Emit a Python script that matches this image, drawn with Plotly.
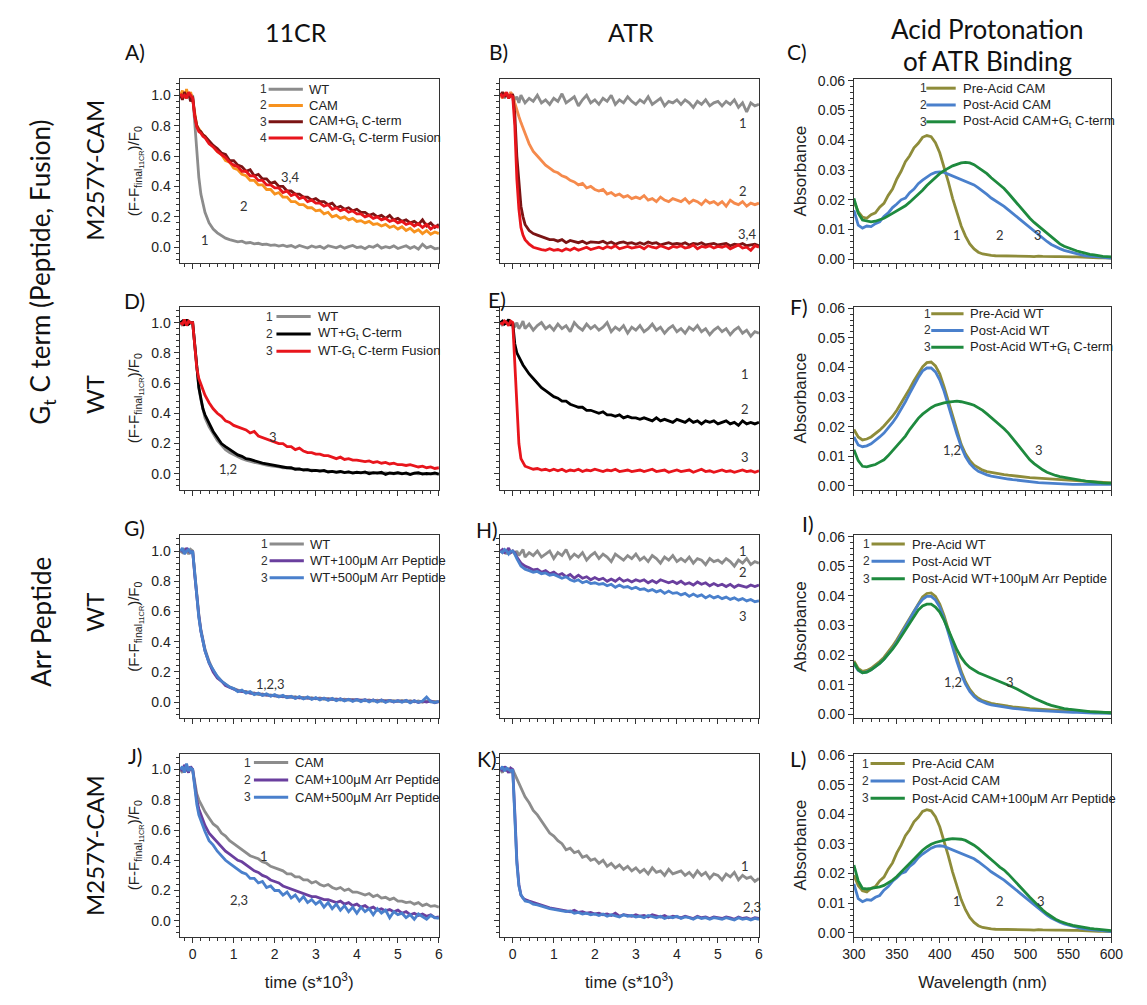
import plotly.graph_objects as go

# ---------------- data ----------------
t = [-0.3, -0.25, -0.2, -0.15, -0.1, -0.05, 0.0, 0.05, 0.1, 0.15, 0.2, 0.25, 0.3, 0.4, 0.5, 0.6, 0.7, 0.8, 0.9, 1.0,
     1.1, 1.2, 1.3, 1.4, 1.5, 1.6, 1.7, 1.8, 1.9, 2.0,
     2.1, 2.2, 2.3, 2.4, 2.5, 2.6, 2.7, 2.8, 2.9, 3.0,
     3.1, 3.2, 3.3, 3.4, 3.5, 3.6, 3.7, 3.8, 3.9, 4.0,
     4.1, 4.2, 4.3, 4.4, 4.5, 4.6, 4.7, 4.8, 4.9, 5.0,
     5.1, 5.2, 5.3, 5.4, 5.5, 5.6, 5.7, 5.8, 5.9, 6.0]

wl = [300, 305, 310, 315, 320, 325, 330, 335, 340, 345, 350, 355, 360, 365, 370, 375, 380, 385, 390, 395,
      400, 405, 410, 415, 420, 425, 430, 435, 440, 445, 450, 455, 460, 465, 470, 475, 480, 485, 490, 495,
      500, 505, 510, 515, 520, 525, 530, 535, 540, 545, 550, 555, 560, 565, 570, 575, 580, 585, 590, 595, 600]

# Panel A (11CR, M257Y-CAM, Gt)
A_wt = [1.00, 0.99, 1.02, 0.98, 1.01, 0.99, 1.00, 0.82, 0.62, 0.46, 0.35, 0.28, 0.23, 0.16, 0.12, 0.095, 0.075, 0.06, 0.05, 0.045,
        0.035, 0.04, 0.028, 0.031, 0.022, 0.026, 0.018, 0.021, 0.012, 0.016,
        0.008, 0.014, 0.005, 0.011, -0.002, 0.012, 0.004, -0.005, 0.008, 0.000,
        0.006, -0.008, 0.010, 0.002, -0.004, 0.008, -0.006, 0.004, 0.012, -0.002,
        0.003, -0.010, 0.007, 0.000, 0.015, -0.006, 0.004, -0.003, 0.009, -0.008,
        0.002, 0.010, -0.007, 0.005, -0.012, 0.020, -0.004, 0.006, -0.010, -0.005]
A_cam = [1.00, 1.03, 0.98, 1.04, 0.99, 1.02, 0.97, 0.88, 0.80, 0.78, 0.76, 0.74, 0.73, 0.69, 0.66, 0.63, 0.61, 0.57, 0.56, 0.52,
         0.51, 0.48, 0.47, 0.44, 0.44, 0.41, 0.41, 0.38, 0.38, 0.35,
         0.36, 0.33, 0.33, 0.30, 0.30, 0.28, 0.28, 0.26, 0.26, 0.24,
         0.245, 0.22, 0.23, 0.20, 0.21, 0.19, 0.20, 0.18, 0.19, 0.17,
         0.175, 0.16, 0.17, 0.15, 0.155, 0.14, 0.15, 0.13, 0.14, 0.12,
         0.135, 0.11, 0.125, 0.10, 0.115, 0.09, 0.11, 0.085, 0.10, 0.09]
A_cpep = [1.00, 0.97, 1.02, 0.99, 1.01, 0.96, 0.99, 0.87, 0.80, 0.77, 0.76, 0.74, 0.73, 0.70, 0.67, 0.65, 0.62, 0.61, 0.57, 0.57,
          0.54, 0.53, 0.50, 0.51, 0.47, 0.48, 0.45, 0.45, 0.42, 0.43,
          0.40, 0.40, 0.37, 0.37, 0.35, 0.35, 0.33, 0.33, 0.31, 0.32,
          0.30, 0.30, 0.28, 0.29, 0.26, 0.27, 0.25, 0.26, 0.24, 0.25,
          0.23, 0.23, 0.21, 0.22, 0.20, 0.21, 0.19, 0.21, 0.18, 0.19,
          0.17, 0.18, 0.16, 0.17, 0.15, 0.18, 0.14, 0.16, 0.13, 0.15]
A_fus = [1.01, 0.99, 1.00, 0.98, 1.02, 1.00, 0.98, 0.86, 0.79, 0.76, 0.75, 0.73, 0.72, 0.68, 0.66, 0.63, 0.61, 0.59, 0.56, 0.54,
         0.53, 0.50, 0.50, 0.47, 0.47, 0.44, 0.44, 0.41, 0.41, 0.39,
         0.39, 0.36, 0.37, 0.34, 0.35, 0.32, 0.33, 0.30, 0.31, 0.29,
         0.29, 0.27, 0.28, 0.25, 0.26, 0.24, 0.25, 0.23, 0.24, 0.22,
         0.22, 0.20, 0.21, 0.19, 0.20, 0.18, 0.19, 0.17, 0.18, 0.16,
         0.17, 0.15, 0.16, 0.14, 0.155, 0.13, 0.15, 0.12, 0.14, 0.13]

# Panel B (ATR, M257Y-CAM, Gt)
B_wt = [0.99, 1.00, 0.98, 1.01, 0.99, 1.00, 1.00, 0.97, 0.99, 0.95, 1.00, 0.97, 0.95, 0.98, 0.96, 1.00, 0.95, 0.97, 0.94, 0.98,
        0.96, 1.01, 0.95, 0.97, 0.99, 0.93, 0.97, 1.00, 0.95, 0.97,
        0.94, 0.98, 0.96, 1.00, 0.94, 0.97, 0.95, 0.99, 0.96, 0.94,
        0.97, 0.95, 0.99, 0.94, 0.96, 0.98, 0.93, 0.96, 0.95, 0.97,
        0.94, 0.97, 0.95, 0.92, 0.96, 0.94, 0.97, 0.93, 0.95, 0.96,
        0.93, 0.96, 0.94, 0.97, 0.92, 0.95, 0.89, 0.95, 0.93, 0.94]
B_cam = [1.00, 0.98, 1.01, 1.00, 0.99, 1.02, 1.00, 0.95, 0.90, 0.86, 0.82, 0.78, 0.75, 0.68, 0.63, 0.60, 0.57, 0.54, 0.52, 0.50,
         0.49, 0.47, 0.46, 0.44, 0.43, 0.41, 0.42, 0.39, 0.40, 0.38,
         0.37, 0.38, 0.35, 0.36, 0.34, 0.35, 0.33, 0.34, 0.32, 0.33,
         0.32, 0.34, 0.31, 0.32, 0.30, 0.33, 0.31, 0.30, 0.32, 0.31,
         0.30, 0.32, 0.29, 0.31, 0.30, 0.28, 0.31, 0.29, 0.30, 0.28,
         0.30, 0.27, 0.31, 0.29, 0.28, 0.30, 0.27, 0.29, 0.28, 0.29]
B_cpep = [1.00, 1.02, 0.99, 1.01, 0.98, 1.00, 1.00, 0.88, 0.60, 0.40, 0.27, 0.20, 0.15, 0.11, 0.09, 0.08, 0.07, 0.06, 0.05, 0.05,
          0.04, 0.05, 0.03, 0.045, 0.035, 0.03, 0.04, 0.025, 0.035, 0.03,
          0.03, 0.04, 0.025, 0.035, 0.02, 0.03, 0.035, 0.025, 0.03, 0.02,
          0.03, 0.02, 0.035, 0.025, 0.03, 0.015, 0.025, 0.03, 0.02, 0.025,
          0.02, 0.03, 0.015, 0.025, 0.02, 0.03, 0.015, 0.02, 0.025, 0.015,
          0.02, 0.025, 0.01, 0.02, 0.015, 0.025, 0.01, 0.015, 0.02, 0.01]
B_fus = [1.01, 0.99, 1.00, 1.02, 0.98, 1.00, 0.99, 0.80, 0.45, 0.25, 0.13, 0.08, 0.05, 0.02, 0.00, -0.01, -0.015, -0.02, -0.01, -0.02,
         -0.015, -0.025, -0.01, -0.02, -0.005, -0.02, -0.01, 0.00, -0.015, -0.005,
         0.00, -0.01, 0.005, -0.005, 0.01, -0.01, 0.00, 0.005, -0.005, 0.00,
         0.005, -0.01, 0.01, 0.00, -0.005, 0.01, 0.00, -0.01, 0.005, 0.00,
         0.01, -0.005, 0.00, 0.015, -0.01, 0.005, 0.00, 0.01, -0.005, 0.005,
         0.00, 0.01, -0.01, 0.005, 0.015, -0.005, 0.00, -0.02, 0.01, 0.00]

# Panel D (11CR, WT, Gt)
D_wt = [1.00, 0.98, 1.02, 0.99, 1.01, 1.00, 1.00, 0.85, 0.68, 0.57, 0.49, 0.42, 0.37, 0.31, 0.26, 0.22, 0.19, 0.16, 0.14, 0.125,
        0.11, 0.10, 0.09, 0.08, 0.075, 0.07, 0.062, 0.058, 0.052, 0.05,
        0.045, 0.04, 0.04, 0.035, 0.03, 0.03, 0.028, 0.025, 0.022, 0.02,
        0.02, 0.018, 0.015, 0.016, 0.012, 0.014, 0.01, 0.012, 0.008, 0.01,
        0.008, 0.006, 0.01, 0.004, 0.008, 0.002, 0.006, 0.004, 0.00, 0.005,
        0.002, 0.004, -0.002, 0.003, 0.00, 0.002, -0.003, 0.001, 0.00, -0.002]
D_pep = [1.00, 1.01, 0.98, 1.02, 0.99, 1.00, 1.00, 0.85, 0.68, 0.57, 0.50, 0.43, 0.39, 0.33, 0.28, 0.24, 0.20, 0.18, 0.16, 0.14,
         0.125, 0.115, 0.10, 0.095, 0.085, 0.08, 0.07, 0.065, 0.06, 0.055,
         0.05, 0.045, 0.04, 0.04, 0.03, 0.032, 0.025, 0.028, 0.02, 0.022,
         0.018, 0.022, 0.012, 0.016, 0.01, 0.015, 0.008, 0.012, 0.005, 0.01,
         0.006, 0.012, 0.00, 0.008, 0.004, 0.01, -0.004, 0.006, 0.002, 0.008,
         0.00, 0.006, -0.005, 0.004, 0.008, -0.002, 0.003, 0.00, 0.005, -0.003]
D_fus = [1.00, 0.99, 1.02, 0.98, 1.01, 1.00, 1.00, 0.86, 0.70, 0.63, 0.59, 0.55, 0.52, 0.47, 0.43, 0.40, 0.38, 0.35, 0.34, 0.32,
         0.31, 0.30, 0.29, 0.27, 0.28, 0.25, 0.24, 0.23, 0.22, 0.21,
         0.20, 0.20, 0.18, 0.18, 0.16, 0.17, 0.15, 0.14, 0.14, 0.13,
         0.13, 0.12, 0.12, 0.11, 0.10, 0.11, 0.095, 0.10, 0.09, 0.09,
         0.085, 0.08, 0.085, 0.075, 0.08, 0.07, 0.075, 0.065, 0.07, 0.06,
         0.06, 0.055, 0.06, 0.05, 0.045, 0.05, 0.04, 0.045, 0.035, 0.04]

# Panel E (ATR, WT, Gt)
E_wt = [1.00, 0.98, 1.01, 0.99, 1.02, 0.98, 1.00, 0.97, 1.00, 0.96, 0.98, 1.01, 0.96, 0.99, 0.95, 0.98, 1.00, 0.96, 0.98, 0.95,
        0.99, 0.96, 0.98, 0.94, 1.00, 0.97, 0.95, 0.99, 0.96, 0.98,
        0.95, 0.97, 1.00, 0.94, 0.97, 0.95, 0.98, 0.93, 0.97, 0.95,
        0.98, 0.94, 0.96, 0.99, 0.95, 0.97, 0.93, 0.96, 0.98, 0.94,
        0.96, 0.93, 0.97, 0.95, 0.98, 0.94, 0.96, 0.92, 0.95, 0.97,
        0.94, 0.96, 0.92, 0.95, 0.97, 0.93, 0.95, 0.91, 0.94, 0.93]
E_pep = [1.00, 1.01, 0.99, 1.00, 1.02, 0.99, 1.00, 0.86, 0.80, 0.77, 0.74, 0.72, 0.70, 0.66, 0.63, 0.60, 0.57, 0.55, 0.53, 0.51,
         0.50, 0.48, 0.48, 0.46, 0.45, 0.44, 0.44, 0.42, 0.42, 0.41,
         0.40, 0.41, 0.39, 0.39, 0.38, 0.39, 0.37, 0.38, 0.37, 0.37,
         0.36, 0.37, 0.36, 0.35, 0.37, 0.35, 0.36, 0.35, 0.34, 0.36,
         0.35, 0.34, 0.36, 0.34, 0.35, 0.33, 0.35, 0.34, 0.35, 0.33,
         0.34, 0.35, 0.33, 0.34, 0.32, 0.35, 0.33, 0.34, 0.33, 0.34]
E_fus = [1.00, 0.99, 1.01, 1.00, 0.98, 1.01, 1.00, 0.70, 0.40, 0.20, 0.10, 0.07, 0.05, 0.04, 0.03, 0.035, 0.025, 0.03, 0.02, 0.03,
         0.02, 0.03, 0.015, 0.025, 0.02, 0.03, 0.015, 0.025, 0.02, 0.03,
         0.02, 0.015, 0.025, 0.02, 0.03, 0.015, 0.02, 0.025, 0.015, 0.02,
         0.025, 0.015, 0.02, 0.03, 0.015, 0.02, 0.025, 0.01, 0.02, 0.025,
         0.015, 0.02, 0.025, 0.01, 0.02, 0.03, 0.015, 0.02, 0.01, 0.02,
         0.025, 0.015, 0.02, 0.01, 0.02, 0.025, 0.015, 0.02, 0.01, 0.02]

# Panel G (11CR, WT, Arr)
G_wt = [1.00, 0.99, 1.01, 1.00, 0.98, 1.01, 1.00, 0.85, 0.70, 0.58, 0.48, 0.41, 0.35, 0.27, 0.21, 0.17, 0.14, 0.12, 0.10, 0.09,
        0.08, 0.07, 0.072, 0.06, 0.062, 0.05, 0.055, 0.045, 0.048, 0.04,
        0.042, 0.035, 0.038, 0.032, 0.036, 0.028, 0.032, 0.025, 0.03, 0.022,
        0.028, 0.02, 0.025, 0.018, 0.022, 0.015, 0.02, 0.014, 0.018, 0.012,
        0.016, 0.01, 0.015, 0.008, 0.014, 0.006, 0.012, 0.008, 0.01, 0.005,
        0.012, 0.004, 0.01, 0.002, 0.009, 0.00, 0.008, 0.003, 0.006, 0.002]
G_100 = [1.01, 1.00, 0.99, 1.02, 1.00, 0.99, 1.00, 0.84, 0.69, 0.57, 0.47, 0.40, 0.34, 0.26, 0.20, 0.16, 0.14, 0.11, 0.10, 0.085,
         0.075, 0.072, 0.065, 0.063, 0.055, 0.058, 0.048, 0.05, 0.042, 0.045,
         0.038, 0.04, 0.033, 0.036, 0.028, 0.032, 0.025, 0.03, 0.022, 0.027,
         0.02, 0.025, 0.018, 0.022, 0.015, 0.021, 0.013, 0.019, 0.012, 0.018,
         0.01, 0.016, 0.008, 0.015, 0.005, 0.014, 0.004, 0.012, 0.002, 0.01,
         0.003, 0.012, 0.00, 0.009, -0.002, 0.007, 0.001, 0.008, -0.003, 0.004]
G_500 = [1.00, 1.02, 0.98, 1.00, 1.01, 0.99, 1.00, 0.84, 0.68, 0.56, 0.47, 0.40, 0.34, 0.26, 0.21, 0.17, 0.14, 0.12, 0.10, 0.09,
         0.07, 0.08, 0.06, 0.07, 0.05, 0.06, 0.045, 0.055, 0.04, 0.05,
         0.035, 0.045, 0.03, 0.04, 0.025, 0.038, 0.022, 0.035, 0.018, 0.03,
         0.015, 0.028, 0.012, 0.025, 0.01, 0.022, 0.008, 0.02, 0.005, 0.018,
         0.004, 0.016, 0.002, 0.015, 0.00, 0.014, -0.002, 0.012, 0.003, 0.01,
         0.00, 0.012, -0.004, 0.01, 0.00, 0.008, 0.035, 0.004, -0.002, 0.006]

# Panel H (ATR, WT, Arr)
H_wt = [1.00, 0.99, 1.01, 0.98, 1.00, 0.99, 1.00, 0.98, 1.00, 0.97, 0.99, 1.01, 0.96, 0.99, 0.97, 1.00, 0.96, 0.98, 1.00, 0.95,
        0.99, 0.97, 1.01, 0.95, 0.98, 0.96, 0.99, 0.94, 0.97, 0.99,
        0.95, 0.98, 0.96, 0.93, 0.98, 0.96, 0.94, 0.97, 0.95, 0.98,
        0.94, 0.96, 0.93, 0.97, 0.95, 0.92, 0.96, 0.94, 0.97, 0.93,
        0.95, 0.93, 0.96, 0.92, 0.95, 0.94, 0.91, 0.95, 0.93, 0.94,
        0.92, 0.95, 0.93, 0.90, 0.94, 0.92, 0.95, 0.91, 0.93, 0.92]
H_100 = [1.00, 1.01, 0.99, 1.00, 1.02, 0.99, 1.00, 0.99, 0.96, 0.94, 0.92, 0.91, 0.90, 0.89, 0.875, 0.88, 0.86, 0.87, 0.85, 0.86,
         0.84, 0.85, 0.83, 0.845, 0.82, 0.84, 0.82, 0.83, 0.81, 0.825,
         0.81, 0.82, 0.80, 0.815, 0.80, 0.82, 0.80, 0.81, 0.795, 0.81,
         0.80, 0.81, 0.79, 0.805, 0.79, 0.81, 0.80, 0.79, 0.80, 0.785,
         0.80, 0.78, 0.79, 0.775, 0.795, 0.78, 0.79, 0.77, 0.785, 0.77,
         0.78, 0.765, 0.78, 0.76, 0.775, 0.77, 0.76, 0.775, 0.765, 0.775]
H_500 = [1.00, 0.99, 1.01, 1.00, 0.98, 1.00, 1.00, 0.98, 0.95, 0.92, 0.90, 0.89, 0.88, 0.87, 0.86, 0.865, 0.85, 0.855, 0.84, 0.845,
         0.83, 0.82, 0.83, 0.81, 0.80, 0.81, 0.79, 0.80, 0.785, 0.79,
         0.78, 0.785, 0.77, 0.78, 0.76, 0.775, 0.76, 0.765, 0.75, 0.76,
         0.745, 0.75, 0.735, 0.745, 0.73, 0.74, 0.72, 0.735, 0.72, 0.725,
         0.71, 0.72, 0.70, 0.715, 0.70, 0.71, 0.69, 0.705, 0.69, 0.70,
         0.685, 0.695, 0.68, 0.69, 0.675, 0.685, 0.67, 0.68, 0.665, 0.67]

# Panel J (11CR, M257Y-CAM, Arr)
J_cam = [1.00, 0.98, 1.02, 0.99, 1.01, 1.00, 1.00, 0.92, 0.84, 0.80, 0.77, 0.745, 0.72, 0.68, 0.64, 0.62, 0.58, 0.56, 0.53, 0.51,
         0.49, 0.47, 0.45, 0.43, 0.42, 0.41, 0.39, 0.38, 0.36, 0.35,
         0.34, 0.33, 0.31, 0.31, 0.29, 0.29, 0.27, 0.27, 0.25, 0.26,
         0.24, 0.23, 0.24, 0.22, 0.21, 0.22, 0.20, 0.21, 0.19, 0.19,
         0.18, 0.17, 0.18, 0.16, 0.17, 0.15, 0.155, 0.14, 0.15, 0.13,
         0.13, 0.12, 0.125, 0.11, 0.12, 0.10, 0.11, 0.095, 0.10, 0.09]
J_100 = [1.01, 0.99, 1.03, 1.00, 0.98, 1.02, 1.00, 0.90, 0.80, 0.74, 0.70, 0.66, 0.63, 0.58, 0.55, 0.52, 0.49, 0.46, 0.44, 0.42,
         0.40, 0.39, 0.37, 0.35, 0.33, 0.32, 0.30, 0.29, 0.27, 0.26,
         0.25, 0.23, 0.22, 0.21, 0.20, 0.19, 0.18, 0.17, 0.16, 0.16,
         0.15, 0.14, 0.14, 0.13, 0.12, 0.13, 0.11, 0.12, 0.10, 0.11,
         0.09, 0.10, 0.08, 0.09, 0.07, 0.08, 0.065, 0.075, 0.06, 0.07,
         0.05, 0.06, 0.04, 0.05, 0.035, 0.045, 0.03, 0.04, 0.02, 0.025]
J_500 = [1.00, 1.02, 0.98, 1.04, 0.99, 1.01, 1.00, 0.88, 0.77, 0.70, 0.66, 0.62, 0.59, 0.53, 0.50, 0.46, 0.43, 0.40, 0.38, 0.36,
         0.34, 0.32, 0.31, 0.28, 0.28, 0.25, 0.26, 0.22, 0.23, 0.20,
         0.20, 0.17, 0.19, 0.15, 0.17, 0.13, 0.16, 0.12, 0.14, 0.11,
         0.13, 0.09, 0.12, 0.08, 0.11, 0.07, 0.10, 0.06, 0.09, 0.05,
         0.09, 0.06, 0.08, 0.04, 0.08, 0.05, 0.07, 0.02, 0.06, 0.04,
         0.05, 0.02, 0.04, 0.01, 0.045, 0.03, 0.01, 0.035, 0.02, 0.015]

# Panel K (ATR, M257Y-CAM, Arr)
K_cam = [1.00, 0.98, 1.02, 0.99, 1.01, 0.98, 1.00, 0.97, 0.93, 0.90, 0.87, 0.85, 0.82, 0.78, 0.73, 0.70, 0.66, 0.62, 0.58, 0.56,
         0.53, 0.51, 0.47, 0.48, 0.45, 0.46, 0.42, 0.43, 0.40, 0.41,
         0.38, 0.40, 0.36, 0.38, 0.35, 0.37, 0.34, 0.36, 0.33, 0.35,
         0.32, 0.34, 0.31, 0.35, 0.32, 0.33, 0.30, 0.34, 0.31, 0.32,
         0.33, 0.30, 0.32, 0.29, 0.33, 0.30, 0.32, 0.28, 0.31, 0.30,
         0.27, 0.31, 0.29, 0.32, 0.27, 0.30, 0.28, 0.29, 0.26, 0.28]
K_100 = [1.01, 0.99, 1.02, 1.00, 0.98, 1.01, 1.00, 0.72, 0.40, 0.24, 0.17, 0.15, 0.14, 0.13, 0.12, 0.11, 0.10, 0.09, 0.085, 0.08,
         0.075, 0.07, 0.065, 0.06, 0.07, 0.055, 0.06, 0.05, 0.055, 0.045,
         0.05, 0.04, 0.045, 0.035, 0.05, 0.03, 0.04, 0.035, 0.03, 0.04,
         0.03, 0.035, 0.025, 0.04, 0.03, 0.025, 0.035, 0.02, 0.03, 0.025,
         0.02, 0.03, 0.025, 0.015, 0.03, 0.02, 0.025, 0.015, 0.025, 0.02,
         0.015, 0.025, 0.02, 0.01, 0.025, 0.015, 0.02, 0.01, 0.02, 0.015]
K_500 = [1.00, 1.02, 0.99, 1.01, 1.00, 0.99, 1.00, 0.70, 0.38, 0.23, 0.17, 0.15, 0.13, 0.125, 0.11, 0.105, 0.095, 0.085, 0.08, 0.075,
         0.07, 0.065, 0.06, 0.065, 0.05, 0.055, 0.045, 0.05, 0.04, 0.045,
         0.035, 0.045, 0.03, 0.04, 0.035, 0.025, 0.04, 0.03, 0.035, 0.025,
         0.03, 0.02, 0.035, 0.025, 0.02, 0.03, 0.015, 0.025, 0.02, 0.03,
         0.015, 0.025, 0.02, 0.01, 0.025, 0.015, 0.02, 0.01, 0.02, 0.015,
         0.01, 0.02, 0.015, 0.005, 0.02, 0.01, 0.015, 0.005, 0.015, 0.01]

# Spectra: M257Y-CAM (panels C and L)
CAM_pre = [0.0195, 0.0160, 0.0142, 0.0138, 0.0150, 0.0156, 0.0175, 0.0188, 0.0215, 0.0236, 0.0270, 0.0296, 0.0328, 0.0348, 0.0375, 0.0390, 0.0410, 0.0416, 0.0412, 0.0392,
           0.0358, 0.0310, 0.0260, 0.0205, 0.0155, 0.0112, 0.0078, 0.0052, 0.0035, 0.0024, 0.0018, 0.0015, 0.0013, 0.0012, 0.0012, 0.0011, 0.0012, 0.0010, 0.0011, 0.0010,
           0.0011, 0.0010, 0.0009, 0.0011, 0.0010, 0.0009, 0.0010, 0.0009, 0.0009, 0.0008, 0.0009, 0.0008, 0.0008, 0.0007, 0.0007, 0.0006, 0.0006, 0.0005, 0.0005, 0.0004, 0.0004]
CAM_post = [0.0165, 0.0115, 0.0105, 0.0112, 0.0110, 0.0120, 0.0126, 0.0144, 0.0156, 0.0174, 0.0186, 0.0200, 0.0206, 0.0224, 0.0236, 0.0254, 0.0266, 0.0276, 0.0286, 0.0292,
            0.0294, 0.0292, 0.0286, 0.0280, 0.0276, 0.0270, 0.0264, 0.0258, 0.0250, 0.0240, 0.0230, 0.0218, 0.0206, 0.0197, 0.0188, 0.0178, 0.0166, 0.0154, 0.0142, 0.0130,
            0.0118, 0.0106, 0.0095, 0.0085, 0.0072, 0.0060, 0.0050, 0.0042, 0.0036, 0.0030, 0.0026, 0.0021, 0.0018, 0.0015, 0.0012, 0.0010, 0.0009, 0.0008, 0.0007, 0.0005, 0.0004]
CAM_gt = [0.0205, 0.0155, 0.0132, 0.0128, 0.0126, 0.0128, 0.0133, 0.0138, 0.0146, 0.0155, 0.0163, 0.0172, 0.0180, 0.0192, 0.0205, 0.0218, 0.0232, 0.0248, 0.0262, 0.0276,
          0.0288, 0.0298, 0.0306, 0.0314, 0.0319, 0.0324, 0.0326, 0.0324, 0.0318, 0.0308, 0.0298, 0.0288, 0.0274, 0.0262, 0.0250, 0.0238, 0.0222, 0.0205, 0.0188, 0.0170,
          0.0154, 0.0138, 0.0124, 0.0112, 0.0098, 0.0085, 0.0073, 0.0062, 0.0052, 0.0044, 0.0038, 0.0032, 0.0028, 0.0024, 0.0020, 0.0017, 0.0015, 0.0012, 0.0010, 0.0009, 0.0008]
CAM_arr = [0.0229, 0.0175, 0.0150, 0.0148, 0.0150, 0.0152, 0.0155, 0.0160, 0.0168, 0.0178, 0.0190, 0.0205, 0.0220, 0.0236, 0.0252, 0.0266, 0.0279, 0.0290, 0.0299, 0.0305,
           0.0309, 0.0313, 0.0316, 0.0318, 0.0318, 0.0316, 0.0312, 0.0305, 0.0296, 0.0285, 0.0273, 0.0262, 0.0248, 0.0235, 0.0222, 0.0212, 0.0198, 0.0182, 0.0166, 0.0152,
           0.0136, 0.0120, 0.0106, 0.0090, 0.0077, 0.0065, 0.0055, 0.0046, 0.0039, 0.0033, 0.0029, 0.0025, 0.0022, 0.0019, 0.0017, 0.0015, 0.0013, 0.0011, 0.0010, 0.0008, 0.0007]

# Spectra: WT (panel F)
WTF_pre = [0.0190, 0.0165, 0.0155, 0.0158, 0.0165, 0.0175, 0.0188, 0.0202, 0.0218, 0.0235, 0.0255, 0.0278, 0.0302, 0.0328, 0.0355, 0.0380, 0.0402, 0.0416, 0.0418, 0.0405,
           0.0378, 0.0335, 0.0285, 0.0232, 0.0182, 0.0140, 0.0108, 0.0086, 0.0070, 0.0060, 0.0053, 0.0048, 0.0045, 0.0042, 0.0040, 0.0038, 0.0036, 0.0034, 0.0032, 0.0031,
           0.0029, 0.0028, 0.0027, 0.0026, 0.0025, 0.0024, 0.0023, 0.0022, 0.0020, 0.0019, 0.0018, 0.0017, 0.0016, 0.0015, 0.0014, 0.0013, 0.0012, 0.0012, 0.0011, 0.0010, 0.0010]
WTF_post = [0.0165, 0.0138, 0.0132, 0.0135, 0.0142, 0.0152, 0.0165, 0.0178, 0.0195, 0.0213, 0.0234, 0.0258, 0.0284, 0.0312, 0.0340, 0.0366, 0.0388, 0.0398, 0.0398, 0.0385,
            0.0358, 0.0320, 0.0272, 0.0222, 0.0175, 0.0133, 0.0099, 0.0076, 0.0060, 0.0049, 0.0042, 0.0037, 0.0033, 0.0030, 0.0027, 0.0025, 0.0023, 0.0021, 0.0019, 0.0017,
            0.0015, 0.0014, 0.0012, 0.0011, 0.0010, 0.0009, 0.0008, 0.0007, 0.0007, 0.0006, 0.0006, 0.0005, 0.0005, 0.0005, 0.0005, 0.0005, 0.0005, 0.0005, 0.0005, 0.0005, 0.0005]
WTF_gt = [0.0122, 0.0085, 0.0066, 0.0064, 0.0068, 0.0072, 0.0080, 0.0088, 0.0102, 0.0118, 0.0135, 0.0152, 0.0168, 0.0190, 0.0210, 0.0228, 0.0242, 0.0254, 0.0264, 0.0272,
          0.0277, 0.0280, 0.0283, 0.0285, 0.0286, 0.0284, 0.0281, 0.0277, 0.0272, 0.0264, 0.0255, 0.0243, 0.0231, 0.0218, 0.0205, 0.0193, 0.0178, 0.0160, 0.0142, 0.0122,
          0.0104, 0.0088, 0.0075, 0.0063, 0.0054, 0.0046, 0.0040, 0.0035, 0.0031, 0.0028, 0.0025, 0.0022, 0.0020, 0.0018, 0.0016, 0.0014, 0.0012, 0.0011, 0.0010, 0.0009, 0.0009]

# Spectra: WT (panel I)
WTI_pre = [0.0180, 0.0155, 0.0145, 0.0148, 0.0155, 0.0165, 0.0178, 0.0192, 0.0210, 0.0230, 0.0252, 0.0276, 0.0300, 0.0326, 0.0352, 0.0376, 0.0396, 0.0408, 0.0410, 0.0398,
           0.0372, 0.0334, 0.0286, 0.0236, 0.0188, 0.0145, 0.0110, 0.0084, 0.0066, 0.0054, 0.0046, 0.0041, 0.0037, 0.0034, 0.0031, 0.0029, 0.0027, 0.0025, 0.0023, 0.0022,
           0.0020, 0.0019, 0.0018, 0.0017, 0.0016, 0.0015, 0.0014, 0.0013, 0.0012, 0.0011, 0.0010, 0.0010, 0.0009, 0.0009, 0.0008, 0.0008, 0.0007, 0.0007, 0.0006, 0.0006, 0.0005]
WTI_post = [0.0170, 0.0148, 0.0140, 0.0143, 0.0150, 0.0160, 0.0172, 0.0186, 0.0203, 0.0222, 0.0244, 0.0268, 0.0294, 0.0320, 0.0346, 0.0370, 0.0388, 0.0398, 0.0398, 0.0386,
            0.0362, 0.0324, 0.0276, 0.0226, 0.0178, 0.0136, 0.0102, 0.0077, 0.0060, 0.0048, 0.0041, 0.0036, 0.0032, 0.0029, 0.0026, 0.0024, 0.0022, 0.0020, 0.0018, 0.0016,
            0.0015, 0.0014, 0.0013, 0.0012, 0.0011, 0.0010, 0.0009, 0.0008, 0.0008, 0.0007, 0.0007, 0.0006, 0.0006, 0.0005, 0.0005, 0.0005, 0.0004, 0.0004, 0.0004, 0.0003, 0.0003]
WTI_arr = [0.0175, 0.0150, 0.0140, 0.0142, 0.0150, 0.0160, 0.0172, 0.0186, 0.0202, 0.0220, 0.0240, 0.0262, 0.0285, 0.0308, 0.0332, 0.0352, 0.0366, 0.0372, 0.0372, 0.0362,
           0.0345, 0.0318, 0.0285, 0.0250, 0.0218, 0.0192, 0.0172, 0.0158, 0.0148, 0.0140, 0.0134, 0.0128, 0.0123, 0.0118, 0.0112, 0.0106, 0.0099, 0.0092, 0.0085, 0.0078,
           0.0070, 0.0062, 0.0054, 0.0047, 0.0041, 0.0035, 0.0030, 0.0026, 0.0022, 0.0019, 0.0017, 0.0015, 0.0013, 0.0011, 0.0010, 0.0009, 0.0008, 0.0007, 0.0006, 0.0005, 0.0005]

# ---------------- styling ----------------
PAGE_MARGIN = 8            # default body margin of the html page
W, H = 1147 - 2 * PAGE_MARGIN, 1005 - 2 * PAGE_MARGIN
COLS = [(171, 436), (498, 763), (860, 1123)]      # page px
ROWS = [(73, 259), (303, 488), (534, 719), (755, 940)]

GRAY = "#8c8c8c"
ORANGE_A = "#f7921e"
ORANGE_B = "#f58a4c"
DARKRED = "#7b1414"
RED = "#e8151c"
BLACK = "#000000"
PURPLE = "#6a3f9e"
BLUE = "#4a80cc"
OLIVE = "#8e8c3a"
GREEN = "#1e8a3e"

TICKFONT = dict(family="Liberation Sans, Arial, sans-serif", size=14, color="#222")
TXTFONT = "Liberation Sans, Arial, sans-serif"
CALFONT = "Lato, Open Sans, sans-serif"
AX = "#333"


def fx(p):
    return (p - PAGE_MARGIN) / W


def fy(p):
    return 1 - (p - PAGE_MARGIN) / H


# (row, col, xdata, [(ydata, color)], curve labels [(x, y, text)])
panels = [
    (0, 0, t, [(A_wt, GRAY), (A_cam, ORANGE_A), (A_cpep, DARKRED), (A_fus, RED)],
     [(0.3, 0.05, "1"), (1.25, 0.27, "2"), (2.36, 0.46, "3,4")]),
    (0, 1, t, [(B_wt, GRAY), (B_cam, ORANGE_B), (B_cpep, DARKRED), (B_fus, RED)],
     [(5.6, 0.82, "1"), (5.6, 0.37, "2"), (5.7, 0.09, "3,4")]),
    (0, 2, wl, [(CAM_pre, OLIVE), (CAM_post, BLUE), (CAM_gt, GREEN)],
     [(420, 0.0083, "1"), (470, 0.0083, "2"), (515, 0.0083, "3")]),
    (1, 0, t, [(D_wt, GRAY), (D_pep, BLACK), (D_fus, RED)],
     [(0.85, 0.03, "1,2"), (1.96, 0.24, "3")]),
    (1, 1, t, [(E_wt, GRAY), (E_pep, BLACK), (E_fus, RED)],
     [(5.65, 0.66, "1"), (5.65, 0.43, "2"), (5.65, 0.11, "3")]),
    (1, 2, wl, [(WTF_pre, OLIVE), (WTF_post, BLUE), (WTF_gt, GREEN)],
     [(414, 0.0122, "1,2"), (516, 0.0122, "3")]),
    (2, 0, t, [(G_wt, GRAY), (G_100, PURPLE), (G_500, BLUE)],
     [(1.9, 0.12, "1,2,3")]),
    (2, 1, t, [(H_wt, GRAY), (H_100, PURPLE), (H_500, BLUE)],
     [(5.6, 1.0, "1"), (5.6, 0.86, "2"), (5.6, 0.57, "3")]),
    (2, 2, wl, [(WTI_pre, OLIVE), (WTI_post, BLUE), (WTI_arr, GREEN)],
     [(416, 0.011, "1,2"), (482, 0.011, "3")]),
    (3, 0, t, [(J_cam, GRAY), (J_100, PURPLE), (J_500, BLUE)],
     [(1.73, 0.43, "1"), (1.13, 0.14, "2,3")]),
    (3, 1, t, [(K_cam, GRAY), (K_100, PURPLE), (K_500, BLUE)],
     [(5.67, 0.36, "1"), (5.83, 0.09, "2,3")]),
    (3, 2, wl, [(CAM_pre, OLIVE), (CAM_post, BLUE), (CAM_arr, GREEN)],
     [(420, 0.0106, "1"), (470, 0.0106, "2"), (518, 0.0106, "3")]),
]

legends = [
    # (num_x, sample_x0, sample_x1, text_x, first_y, dy, items)  -- page px
    (257, 262, 297, 301, 83, 16.5, [("1", GRAY, "WT"), ("2", ORANGE_A, "CAM"),
                                    ("3", DARKRED, "CAM+G<sub>t</sub> C-term"),
                                    ("4", RED, "CAM-G<sub>t</sub> C-term Fusion")]),
    (931, 934, 964, 969, 82, 17, [("1", OLIVE, "Pre-Acid CAM"), ("2", BLUE, "Post-Acid CAM"),
                                  ("3", GREEN, "Post-Acid CAM+G<sub>t</sub> C-term")]),
    (263, 270, 305, 310, 313, 17.5, [("1", GRAY, "WT"), ("2", BLACK, "WT+G<sub>t</sub> C-term"),
                                     ("3", RED, "WT-G<sub>t</sub> C-term Fusion")]),
    (935, 939, 972, 977, 310, 17, [("1", OLIVE, "Pre-Acid WT"), ("2", BLUE, "Post-Acid WT"),
                                   ("3", GREEN, "Post-Acid WT+G<sub>t</sub> C-term")]),
    (258, 263, 298, 302, 543, 17, [("1", GRAY, "WT"), ("2", PURPLE, "WT+100\u03bcM Arr Peptide"),
                                   ("3", BLUE, "WT+500\u03bcM Arr Peptide")]),
    (873, 878, 912, 917, 543, 17.5, [("1", OLIVE, "Pre-Acid WT"), ("2", BLUE, "Post-Acid WT"),
                                     ("3", GREEN, "Post-Acid WT+100\u03bcM Arr Peptide")]),
    (240, 247, 282, 287, 764, 17.5, [("1", GRAY, "CAM"), ("2", PURPLE, "CAM+100\u03bcM Arr Peptide"),
                                     ("3", BLUE, "CAM+500\u03bcM Arr Peptide")]),
    (872, 877, 912, 917, 765, 17.5, [("1", OLIVE, "Pre-Acid CAM"), ("2", BLUE, "Post-Acid CAM"),
                                     ("3", GREEN, "Post-Acid CAM+100\u03bcM Arr Peptide")]),
]

fig = go.Figure()
layout = dict(width=W, height=H, margin=dict(l=0, r=0, t=0, b=0),
              paper_bgcolor="white", plot_bgcolor="white", showlegend=False)
annotations = []
shapes = []

for k, (r, c, xd, series, clabels) in enumerate(panels, start=1):
    sfx = "" if k == 1 else str(k)
    xid, yid = "x" + sfx, "y" + sfx
    for yd, col in series:
        fig.add_trace(go.Scatter(x=xd, y=yd, mode="lines", line=dict(color=col, width=2.8),
                                 xaxis=xid, yaxis=yid, hoverinfo="skip"))
    spectral = (c == 2)
    xa = dict(domain=[fx(COLS[c][0]), fx(COLS[c][1])], anchor=yid,
              showline=True, linecolor=AX, linewidth=1, mirror=True,
              ticks="outside", ticklen=5, tickwidth=1, tickcolor=AX,
              showgrid=False, zeroline=False, tickfont=TICKFONT,
              showticklabels=(r == 3))
    ya = dict(domain=[fy(ROWS[r][1]), fy(ROWS[r][0])], anchor=xid,
              showline=True, linecolor=AX, linewidth=1, mirror=True,
              ticks="outside", ticklen=5, tickwidth=1, tickcolor=AX,
              showgrid=False, zeroline=False, tickfont=TICKFONT)
    if spectral:
        xa.update(range=[300, 600], tick0=300, dtick=50,
                  minor=dict(ticks="outside", dtick=10, ticklen=3, tickcolor=AX))
        ya.update(range=[-0.0013, 0.0605], tick0=0, dtick=0.01, tickformat=".2f",
                  minor=dict(ticks="outside", dtick=0.002, ticklen=3, tickcolor=AX),
                  title=dict(text="Absorbance", font=dict(family=TXTFONT, size=17, color="#222"), standoff=6))
        if r == 3:
            xa["title"] = dict(text="Wavelength (nm)", font=dict(family=TXTFONT, size=17, color="#222"), standoff=14)
    else:
        xa.update(range=[-0.32, 6.0], tick0=0, dtick=1,
                  minor=dict(ticks="outside", dtick=0.2, ticklen=3, tickcolor=AX))
        ya.update(range=[-0.105, 1.105], tick0=0, dtick=0.2, tickformat=".1f",
                  minor=dict(ticks="outside", dtick=0.04, ticklen=3, tickcolor=AX),
                  showticklabels=(c == 0))
        if c == 0:
            ya["title"] = dict(text="(F-F<sub>final<sub>11CR</sub></sub>)/F<sub>0</sub>",
                               font=dict(family=TXTFONT, size=15, color="#222"), standoff=8)
        if r == 3:
            xa["title"] = dict(text="time (s*10<sup>3</sup>)", font=dict(family=TXTFONT, size=17, color="#222"), standoff=14)
    layout["xaxis" + sfx] = xa
    layout["yaxis" + sfx] = ya
    for lx, ly, txt in clabels:
        annotations.append(dict(x=lx, y=ly, xref=xid, yref=yid, text=txt, showarrow=False,
                                font=dict(family=CALFONT, size=13, color="#333")))

# manual legends
for nx, sx0, sx1, tx, y0, dy, items in legends:
    for i, (num, col, txt) in enumerate(items):
        yy = y0 + i * dy
        shapes.append(dict(type="line", xref="paper", yref="paper", x0=fx(sx0), x1=fx(sx1),
                           y0=fy(yy), y1=fy(yy), line=dict(color=col, width=3)))
        annotations.append(dict(x=fx(nx), y=fy(yy), xref="paper", yref="paper", text=num,
                                showarrow=False, xanchor="center", yanchor="middle",
                                font=dict(family=TXTFONT, size=12, color="#333")))
        annotations.append(dict(x=fx(tx), y=fy(yy), xref="paper", yref="paper", text=txt,
                                showarrow=False, xanchor="left", yanchor="middle",
                                font=dict(family=TXTFONT, size=13, color="#222")))

# panel letters
letters = [("A)", 125, 45), ("B)", 497, 45), ("C)", 802, 45), ("D)", 125, 297), ("E)", 495, 296),
           ("F)", 803, 303), ("G)", 125, 526), ("H)", 485, 528), ("I)", 813, 522),
           ("J)", 125, 757), ("K)", 485, 760), ("L)", 803, 760)]
for txt, x, y in letters:
    annotations.append(dict(x=fx(x), y=fy(y), xref="paper", yref="paper", text=txt, showarrow=False,
                            xanchor="center", yanchor="middle",
                            font=dict(family=CALFONT, size=21, color="#111")))

# column headers
for txt, x, y, s in [("11CR", 290, 25, 25), ("ATR", 632, 25, 25),
                     ("Acid Protonation", 996, 22, 26), ("of ATR Binding", 996, 55, 26)]:
    annotations.append(dict(x=fx(x), y=fy(y), xref="paper", yref="paper", text=txt, showarrow=False,
                            xanchor="center", yanchor="middle",
                            font=dict(family=CALFONT, size=s, color="#111")))

# row labels
for txt, x, y, s in [("G<sub>t</sub> C term (Peptide, Fusion)", 30, 268, 26),
                     ("M257Y-CAM", 84, 165, 24), ("WT", 84, 392, 24),
                     ("Arr Peptide", 30, 622, 26),
                     ("WT", 84, 612, 24), ("M257Y-CAM", 84, 848, 24)]:
    annotations.append(dict(x=fx(x), y=fy(y), xref="paper", yref="paper", text=txt, showarrow=False,
                            xanchor="center", yanchor="middle", textangle=-90,
                            font=dict(family=CALFONT, size=s, color="#111")))

layout["annotations"] = annotations
layout["shapes"] = shapes
fig.update_layout(**layout)
fig.write_html("out.html")
